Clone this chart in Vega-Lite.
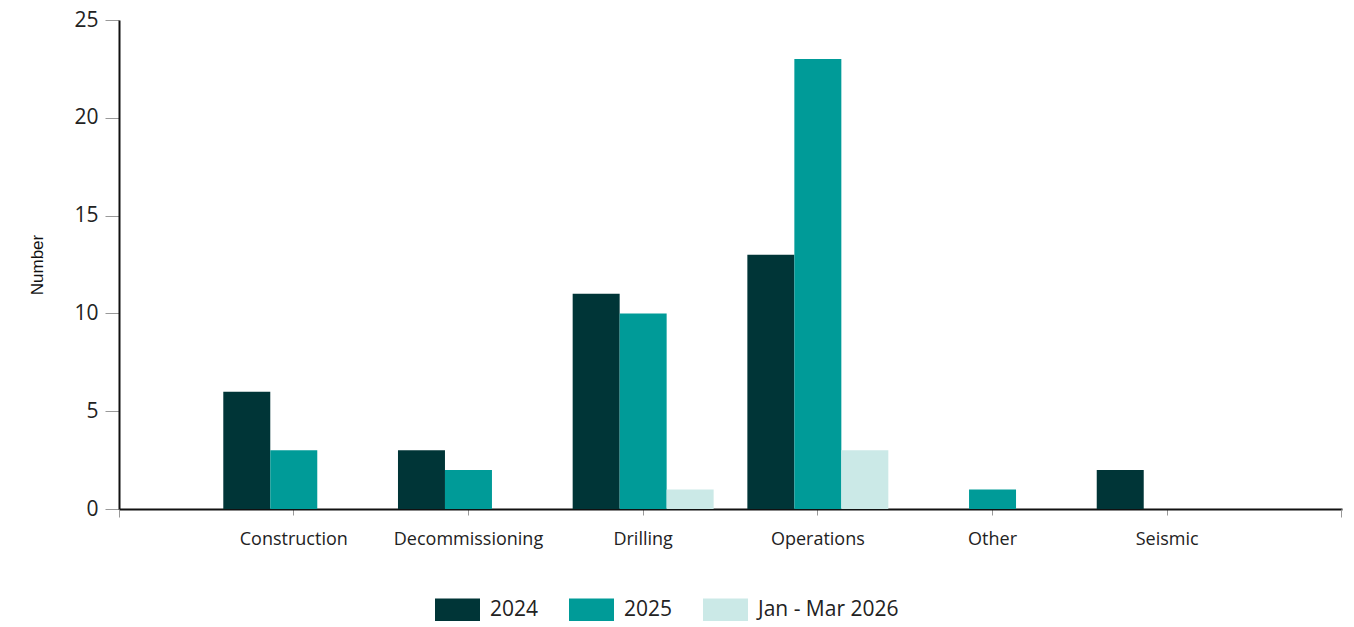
{
  "$schema": "https://vega.github.io/schema/vega-lite/v6.json",
  "width": 1223,
  "height": 489,
  "autosize": {"type": "none"},
  "padding": {"left": 119, "top": 20, "right": 12, "bottom": 118},
  "background": "white",
  "config": {
    "view": {"stroke": null},
    "font": "Open Sans"
  },
  "data": {
    "values": [
      {"category": "Construction", "period": "2024", "count": 6},
      {"category": "Construction", "period": "2025", "count": 3},
      {"category": "Decommissioning", "period": "2024", "count": 3},
      {"category": "Decommissioning", "period": "2025", "count": 2},
      {"category": "Drilling", "period": "2024", "count": 11},
      {"category": "Drilling", "period": "2025", "count": 10},
      {"category": "Drilling", "period": "Jan - Mar 2026", "count": 1},
      {"category": "Operations", "period": "2024", "count": 13},
      {"category": "Operations", "period": "2025", "count": 23},
      {"category": "Operations", "period": "Jan - Mar 2026", "count": 3},
      {"category": "Other", "period": "2025", "count": 1},
      {"category": "Seismic", "period": "2024", "count": 2}
    ]
  },
  "resolve": {"axis": {"x": "independent"}},
  "layer": [
    {
      "mark": {"type": "bar"},
      "encoding": {
        "x": {
          "field": "category",
          "type": "nominal",
          "sort": ["Construction", "Decommissioning", "Drilling", "Operations", "Other", "Seismic"],
          "scale": {"paddingInner": 0.193, "paddingOuter": 0.597},
          "axis": {
            "orient": "bottom",
            "title": null,
            "labelAngle": 0,
            "labelFontSize": 18,
            "labelColor": "#222222",
            "labelPadding": 15,
            "tickSize": 6,
            "tickColor": "#999999",
            "tickWidth": 1,
            "domainColor": "#111111",
            "domainWidth": 2,
            "grid": false
          }
        },
        "xOffset": {
          "field": "period",
          "type": "nominal",
          "sort": ["2024", "2025", "Jan - Mar 2026"],
          "scale": {"paddingInner": 0, "paddingOuter": 0}
        },
        "y": {
          "field": "count",
          "type": "quantitative",
          "scale": {"domain": [0, 25]},
          "axis": {
            "title": "Number",
            "titleFont": "Liberation Sans",
            "titleFontSize": 17,
            "titleFontWeight": "normal",
            "titleColor": "#111111",
            "titlePadding": 27,
            "values": [0, 5, 10, 15, 20, 25],
            "labelFontSize": 21,
            "labelColor": "#222222",
            "labelPadding": 7,
            "tickSize": 14,
            "tickColor": "#999999",
            "tickWidth": 1,
            "domainColor": "#111111",
            "domainWidth": 2,
            "grid": false
          }
        },
        "color": {
          "field": "period",
          "type": "nominal",
          "sort": ["2024", "2025", "Jan - Mar 2026"],
          "scale": {
            "domain": ["2024", "2025", "Jan - Mar 2026"],
            "range": ["#003537", "#009B98", "#CBE9E7"]
          },
          "legend": {
            "title": null,
            "orient": "none",
            "direction": "horizontal",
            "legendX": 316,
            "legendY": 567,
            "padding": 0,
            "symbolType": "M-1,-0.5H1V0.5H-1Z",
            "symbolSize": 2025,
            "symbolStrokeWidth": 0,
            "symbolOpacity": 1,
            "labelFontSize": 21,
            "labelColor": "#222222",
            "labelOffset": 10,
            "columnPadding": 30
          }
        }
      }
    },
    {
      "mark": {"type": "bar", "opacity": 0},
      "encoding": {
        "x": {
          "field": "category",
          "type": "nominal",
          "sort": ["Construction", "Decommissioning", "Drilling", "Operations", "Other", "Seismic"],
          "axis": {
            "orient": "bottom",
            "title": null,
            "values": ["Construction"],
            "tickOffset": -175,
            "labels": false,
            "domain": false,
            "tickSize": 8,
            "tickColor": "#999999",
            "tickWidth": 1,
            "grid": false
          }
        }
      }
    },
    {
      "mark": {"type": "bar", "opacity": 0},
      "encoding": {
        "x": {
          "field": "category",
          "type": "nominal",
          "sort": ["Construction", "Decommissioning", "Drilling", "Operations", "Other", "Seismic"],
          "axis": {
            "orient": "bottom",
            "title": null,
            "values": ["Seismic"],
            "tickOffset": 174,
            "labels": false,
            "domain": false,
            "tickSize": 8,
            "tickColor": "#999999",
            "tickWidth": 1,
            "grid": false
          }
        }
      }
    }
  ]
}
